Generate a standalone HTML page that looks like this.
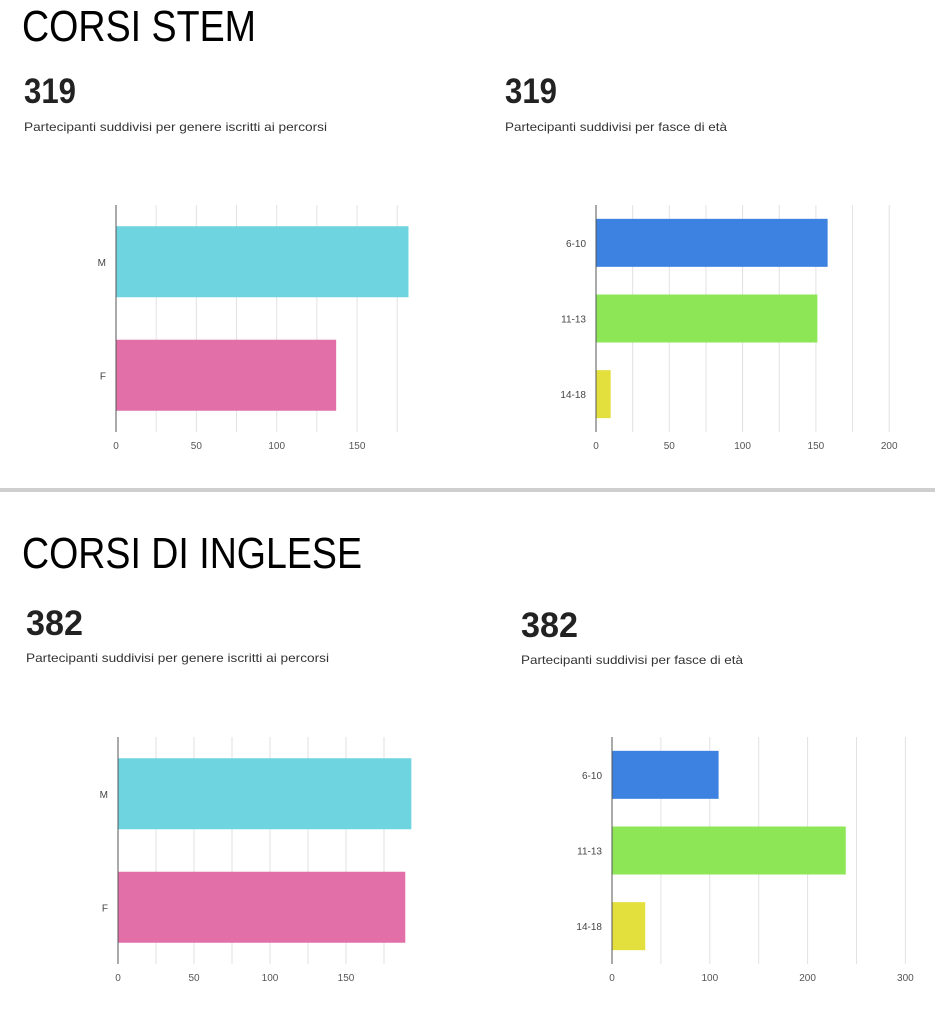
<!DOCTYPE html>
<html><head><meta charset="utf-8"><style>
html,body{margin:0;padding:0;background:#fff;}
svg{display:block;font-family:"Liberation Sans",sans-serif;}
</style></head><body>
<svg id="page" width="935" height="1024" viewBox="0 0 935 1024">
<text x="22" y="41" font-size="44" textLength="234" lengthAdjust="spacingAndGlyphs" fill="#000">CORSI STEM</text>
<text x="24" y="103" font-size="35" font-weight="bold" fill="#222" textLength="52" lengthAdjust="spacingAndGlyphs">319</text>
<text x="24" y="131" font-size="12" fill="#333" textLength="303" lengthAdjust="spacingAndGlyphs">Partecipanti suddivisi per genere iscritti ai percorsi</text>
<text x="505" y="103" font-size="35" font-weight="bold" fill="#222" textLength="52" lengthAdjust="spacingAndGlyphs">319</text>
<text x="505" y="131" font-size="12" fill="#333" textLength="222" lengthAdjust="spacingAndGlyphs">Partecipanti suddivisi per fasce di età</text>
<rect x="0" y="488" width="935" height="4" fill="#cfcfcf"/>
<text x="22" y="568" font-size="44" textLength="340" lengthAdjust="spacingAndGlyphs" fill="#000">CORSI DI INGLESE</text>
<text x="26" y="635" font-size="35" font-weight="bold" fill="#222" textLength="57" lengthAdjust="spacingAndGlyphs">382</text>
<text x="26" y="662" font-size="12" fill="#333" textLength="303" lengthAdjust="spacingAndGlyphs">Partecipanti suddivisi per genere iscritti ai percorsi</text>
<text x="521" y="637" font-size="35" font-weight="bold" fill="#222" textLength="57" lengthAdjust="spacingAndGlyphs">382</text>
<text x="521" y="664" font-size="12" fill="#333" textLength="222" lengthAdjust="spacingAndGlyphs">Partecipanti suddivisi per fasce di età</text>
</svg>
<script>
const genderCats = ['M', 'F'];
const genderColors = ['#6dd4e0', '#e26fa8'];
const ageCats = ['6-10', '11-13', '14-18'];
const ageColors = ['#3d82e0', '#8ce656', '#e3df3c'];
const stemGender = [182, 137];
const stemAge = [158, 151, 10];
const engGender = [193, 189];
const engAge = [109, 239, 34];
const stemGenderTicks = [0, 50, 100, 150];
const stemAgeTicks = [0, 50, 100, 150, 200];
const engGenderTicks = [0, 50, 100, 150];
const engAgeTicks = [0, 100, 200, 300];

const svg = document.getElementById('page');
const NS = 'http://www.w3.org/2000/svg';
function mk(tag, attrs) { const e = document.createElementNS(NS, tag); for (const k in attrs) e.setAttribute(k, attrs[k]); svg.appendChild(e); return e; }

function chart(name, cfg, cats, colors, vals, ticks) {
  const x = v => cfg.x0 + v * cfg.ppu;
  // grid
  for (let g = cfg.gridStep; g <= cfg.gridMax; g += cfg.gridStep) {
    const l = mk('line', {x1: x(g), x2: x(g), y1: cfg.top, y2: cfg.bottom, stroke: '#e2e2e2', 'stroke-width': 1});
    
    
  }
  const band = (cfg.bottom - cfg.top) / cats.length;
  cats.forEach((c, i) => {
    const cy = cfg.top + band * (i + 0.5);
    const r = mk('rect', {x: x(0), y: cy - cfg.barH / 2, width: Math.max(0, x(vals[i]) - x(0)), height: cfg.barH, fill: colors[i]});
    
    
    const t = mk('text', {x: x(0) - 10, y: cy + 4, 'font-size': 10, fill: '#444', 'text-anchor': 'end'});
    t.textContent = c;
    
    
  });
  ticks.forEach(v => {
    const t = mk('text', {x: x(v), y: cfg.bottom + 17, 'font-size': 10, fill: '#555', 'text-anchor': 'middle'});
    t.textContent = v;
    
    
  });
  const ax = mk('line', {x1: x(0), x2: x(0), y1: cfg.top, y2: cfg.bottom, stroke: '#555', 'stroke-width': 1});
  
  
}

chart('stem-gender', {x0: 116, ppu: 1.607, top: 205, bottom: 432, barH: 71, gridStep: 25, gridMax: 175}, genderCats, genderColors, stemGender, stemGenderTicks);
chart('stem-age', {x0: 596, ppu: 1.466, top: 205, bottom: 432, barH: 48, gridStep: 25, gridMax: 200}, ageCats, ageColors, stemAge, stemAgeTicks);
chart('english-gender', {x0: 118, ppu: 1.52, top: 737, bottom: 964, barH: 71, gridStep: 25, gridMax: 175}, genderCats, genderColors, engGender, engGenderTicks);
chart('english-age', {x0: 612, ppu: 0.978, top: 737, bottom: 964, barH: 48, gridStep: 50, gridMax: 300}, ageCats, ageColors, engAge, engAgeTicks);
</script>
</body></html>
